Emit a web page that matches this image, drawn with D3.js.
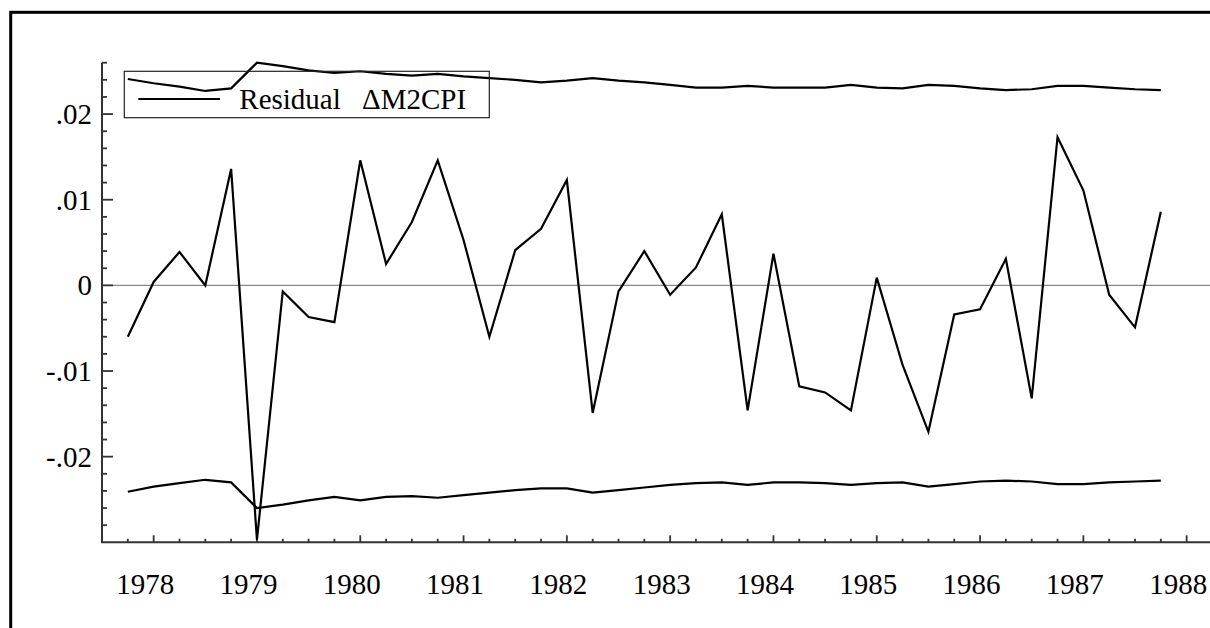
<!DOCTYPE html>
<html>
<head>
<meta charset="utf-8">
<script src="https://cdn.jsdelivr.net/npm/d3@7"></script>
</head>
<body style="margin:0;padding:0;background:#fff;">
<svg id="chart" width="1210" height="628" style="display:block"></svg>
<script>
// Quarterly dates 1977Q4 .. 1987Q4
const quarters = d3.range(41).map(i => 1977.75 + i * 0.25);

const residual = [
 -0.0060, 0.0004, 0.0039, 0.0000, 0.0136, -0.0297, -0.0007, -0.0037, -0.0043, 0.0146,
  0.0025, 0.0074, 0.0146, 0.0053, -0.0060, 0.0041, 0.0066, 0.0123, -0.0149, -0.0007,
  0.0040, -0.0011, 0.0021, 0.0083, -0.0146, 0.0037, -0.0118, -0.0125, -0.0146, 0.0009,
 -0.0093, -0.0171, -0.0034, -0.0028, 0.0031, -0.0132, 0.0173, 0.0111, -0.0011, -0.0049,
  0.0086
];

const upperBand = [
  0.0241, 0.0236, 0.0232, 0.0227, 0.0230, 0.0260, 0.0256, 0.0251, 0.0248, 0.0250,
  0.0247, 0.0245, 0.0247, 0.0244, 0.0242, 0.0240, 0.0237, 0.0239, 0.0242, 0.0239,
  0.0237, 0.0234, 0.0231, 0.0231, 0.0233, 0.0231, 0.0231, 0.0231, 0.0234, 0.0231,
  0.0230, 0.0234, 0.0233, 0.0230, 0.0228, 0.0229, 0.0233, 0.0233, 0.0231, 0.0229,
  0.0228
];

const lowerBand = [
 -0.0241, -0.0235, -0.0231, -0.0227, -0.0230, -0.0260, -0.0256, -0.0251, -0.0247, -0.0251,
 -0.0247, -0.0246, -0.0248, -0.0245, -0.0242, -0.0239, -0.0237, -0.0237, -0.0242, -0.0239,
 -0.0236, -0.0233, -0.0231, -0.0230, -0.0233, -0.0230, -0.0230, -0.0231, -0.0233, -0.0231,
 -0.0230, -0.0235, -0.0232, -0.0229, -0.0228, -0.0229, -0.0232, -0.0232, -0.0230, -0.0229,
 -0.0228
];

const yTickValues = [0.02, 0.01, 0, -0.01, -0.02];
const yTickLabels = [".02", ".01", "0", "-.01", "-.02"];
const xTickYears = [1978, 1979, 1980, 1981, 1982, 1983, 1984, 1985, 1986, 1987, 1988];
const legendWords = ["Residual", "\u0394M2CPI"];

const FONT = '"Liberation Serif", monospace';
const FS = 29;

// prime the font
const ctx = document.createElement("canvas").getContext("2d");
ctx.font = FS + 'px "Liberation Serif", monospace';
ctx.measureText("Residual 1978 .02 \u0394M2CPI");

const svg = d3.select("#chart");

const x = d3.scaleLinear().domain([1977.5, 1988.226]).range([102, 1210]);
const y = d3.scaleLinear().domain([-0.03, 0.026]).range([542.3, 62.7]);

// outer frame
svg.append("rect").attr("x", 10.7).attr("y", 12.3).attr("width", 1400).attr("height", 800)
  .attr("fill", "none").attr("stroke", "#000").attr("stroke-width", 3);

// zero line
svg.append("line").attr("x1", x(1977.5)).attr("x2", 1210)
  .attr("y1", y(0)).attr("y2", y(0)).attr("stroke", "#888").attr("stroke-width", 1.2);

const axisColor = "#333";
svg.append("line").attr("x1", x(1977.5)).attr("x2", x(1977.5))
  .attr("y1", y(0.026)).attr("y2", y(-0.03)).attr("stroke", axisColor).attr("stroke-width", 2);
svg.append("line").attr("x1", x(1977.5) - 1).attr("x2", 1210)
  .attr("y1", y(-0.03)).attr("y2", y(-0.03)).attr("stroke", axisColor).attr("stroke-width", 2);

// y ticks (minor every 0.002, major at 0.01 multiples)
const yMinor = d3.range(-14, 14).map(k => k * 0.002);
svg.append("g").selectAll("line").data(yMinor).join("line")
  .attr("x1", x(1977.5))
  .attr("x2", d => x(1977.5) + (Math.abs(Math.round(d * 1000)) % 10 === 0 ? 11 : 5))
  .attr("y1", d => y(d)).attr("y2", d => y(d))
  .attr("stroke", axisColor).attr("stroke-width", 1.8);

svg.append("g").selectAll("text").data(yTickValues).join("text")
  .attr("x", 92).attr("y", d => y(d)).attr("dy", "0.34em")
  .attr("text-anchor", "end").attr("font-size", FS)
  .attr("font-family", FONT)
  .text((d, i) => yTickLabels[i]);

// x ticks (quarterly minor, yearly major)
const xMinor = d3.range(1, 43).map(k => 1977.5 + k * 0.25);
svg.append("g").selectAll("line").data(xMinor).join("line")
  .attr("x1", d => x(d)).attr("x2", d => x(d))
  .attr("y1", y(-0.03))
  .attr("y2", d => y(-0.03) - (Math.abs(d - Math.round(d)) < 1e-6 ? 7 : 3.5))
  .attr("stroke", axisColor).attr("stroke-width", 1.8);

svg.append("g").selectAll("text").data(xTickYears).join("text")
  .attr("x", d => x(d) - 8.5).attr("y", 593.5)
  .attr("text-anchor", "middle").attr("font-size", FS)
  .attr("font-family", FONT)
  .text(d => d);

// series
const line = d3.line().x((d, i) => x(quarters[i])).y(d => y(d));
[upperBand, lowerBand, residual].forEach(s => {
  svg.append("path").datum(s).attr("d", line)
    .attr("fill", "none").attr("stroke", "#000").attr("stroke-width", 2.2)
    .attr("stroke-linejoin", "miter");
});

// legend
svg.append("rect").attr("x", 124.3).attr("y", 71.3).attr("width", 365).attr("height", 46.4)
  .attr("fill", "none").attr("stroke", "#222").attr("stroke-width", 1.2);
svg.append("line").attr("x1", 138.3).attr("x2", 220).attr("y1", 99).attr("y2", 99)
  .attr("stroke", "#000").attr("stroke-width", 2);
const lt = svg.append("text").attr("y", 109.3).attr("font-size", FS).attr("font-family", FONT);
lt.append("tspan").attr("x", 239.3).text(legendWords[0]);
lt.append("tspan").attr("x", 362).text(legendWords[1]);
</script>
</body>
</html>
